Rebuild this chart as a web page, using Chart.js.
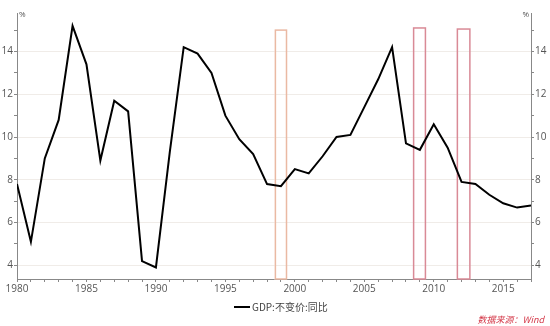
<!DOCTYPE html>
<html>
<head>
<meta charset="utf-8">
<script src="https://cdn.jsdelivr.net/npm/chart.js@4/dist/chart.umd.min.js"></script>
<style>
  html, body { margin: 0; padding: 0; background: #fff; }
  #wrap { width: 550px; height: 326px; }
</style>
</head>
<body>
<div id="wrap"><canvas id="c"></canvas></div>
<script>
// China real GDP growth, year over year (%)
const years = [1980,1981,1982,1983,1984,1985,1986,1987,1988,1989,1990,1991,1992,1993,1994,1995,1996,1997,1998,1999,2000,2001,2002,2003,2004,2005,2006,2007,2008,2009,2010,2011,2012,2013,2014,2015,2016,2017];
const gdpGrowth = [7.8,5.1,9.0,10.8,15.2,13.4,8.9,11.7,11.2,4.2,3.9,9.3,14.2,13.9,13.0,11.0,9.9,9.2,7.8,7.7,8.5,8.3,9.1,10.0,10.1,11.4,12.7,14.2,9.7,9.4,10.6,9.5,7.9,7.8,7.3,6.9,6.7,6.8];
const seriesLabel = 'GDP:不变价:同比';
const sourceNote = '数据来源：Wind';

// Highlighted periods: [start year, end year, top value]
const boxStarts = [1998.6, 2008.55, 2011.7];
const boxEnds   = [1999.4, 2009.4, 2012.6];
const boxTops   = [15.0, 15.1, 15.05];
const boxColors = ['#eab9a3', '#d98a96', '#d98a96'];

const yMin = 3.36, yMax = 15.8;

const decorations = {
  id: 'decorations',
  beforeDatasetsDraw(chart) {
    const {ctx, scales: {x, y}} = chart;
    ctx.save();
    ctx.lineWidth = 1.5;
    for (let i = 0; i < boxStarts.length; i++) {
      const x0 = x.getPixelForValue(boxStarts[i]);
      const x1 = x.getPixelForValue(boxEnds[i]);
      const y0 = y.getPixelForValue(boxTops[i]);
      const y1 = y.getPixelForValue(yMin);
      ctx.strokeStyle = boxColors[i];
      ctx.strokeRect(x0, y0, x1 - x0, y1 - y0);
    }
    ctx.restore();
  },
  afterDraw(chart) {
    const {ctx, chartArea, width, height} = chart;
    ctx.save();
    // unit marks at the top of both axes
    ctx.fillStyle = '#555';
    ctx.font = '8px "Open Sans", sans-serif';
    ctx.textBaseline = 'middle';
    ctx.textAlign = 'left';
    ctx.fillText('%', chartArea.left + 2, chartArea.top + 2);
    ctx.textAlign = 'right';
    ctx.fillText('%', chartArea.right - 2, chartArea.top + 2);

    // legend: line sample + series name
    const ly = height - 19;
    ctx.strokeStyle = '#000';
    ctx.lineWidth = 2;
    ctx.beginPath();
    ctx.moveTo(234, ly);
    ctx.lineTo(250, ly);
    ctx.stroke();
    ctx.fillStyle = '#444';
    ctx.font = '10px "Noto Sans CJK SC", "Open Sans", sans-serif';
    ctx.textAlign = 'left';
    ctx.fillText(seriesLabel, 252, ly);

    // source note
    ctx.fillStyle = '#d43a4a';
    ctx.font = 'italic 9px "Noto Sans CJK SC", sans-serif';
    ctx.textAlign = 'right';
    ctx.fillText(sourceNote, width - 6, height - 6);
    ctx.restore();
  }
};

const tickFont = {family: '"Open Sans", "Noto Sans", sans-serif', size: 10};
const evenGrid = (c) => (Math.round(c.tick.value) % 2 === 0 ? '#f0ece8' : 'rgba(0,0,0,0)');

function yAxis(pos, width) {
  return {
    type: 'linear',
    position: pos,
    min: yMin,
    max: yMax,
    afterBuildTicks(axis) {
      const t = [];
      for (let v = 4; v <= 15; v++) t.push({value: v});
      axis.ticks = t;
    },
    afterFit(axis) { axis.width = width; },
    border: {display: true, color: '#888', width: 1},
    grid: {
      display: true,
      drawOnChartArea: pos === 'left',
      color: evenGrid,
      tickColor: '#888',
      tickLength: 3,
      lineWidth: 1
    },
    ticks: {
      color: '#555',
      font: tickFont,
      padding: 1,
      autoSkip: false,
      callback: (v) => (v % 2 === 0 ? String(v) : '')
    }
  };
}

new Chart(document.getElementById('c'), {
  type: 'line',
  data: {
    datasets: [{
      label: seriesLabel,
      data: years.map((yr, i) => ({x: yr, y: gdpGrowth[i]})),
      borderColor: '#000',
      backgroundColor: '#000',
      borderWidth: 2,
      pointRadius: 0,
      tension: 0
    }]
  },
  options: {
    responsive: true,
    maintainAspectRatio: false,
    animation: false,
    layout: {padding: {top: 13, bottom: 29, left: 0, right: 0}},
    scales: {
      x: {
        type: 'linear',
        min: 1980,
        max: 2017,
        afterBuildTicks(axis) {
          const t = [];
          for (let v = 1980; v <= 2017; v++) t.push({value: v});
          axis.ticks = t;
        },
        afterFit(axis) { axis.height = 18; },
        border: {display: true, color: '#888', width: 1},
        grid: {display: true, drawOnChartArea: false, tickColor: '#888', tickLength: 3},
        ticks: {
          color: '#555',
          font: tickFont,
          padding: 1,
          maxRotation: 0,
          autoSkip: false,
          callback: (v) => (v % 5 === 0 ? String(v) : '')
        }
      },
      y: yAxis('left', 17),
      y2: yAxis('right', 19)
    },
    plugins: {
      legend: {display: false},
      tooltip: {enabled: false}
    }
  },
  plugins: [decorations]
});
</script>
</body>
</html>
